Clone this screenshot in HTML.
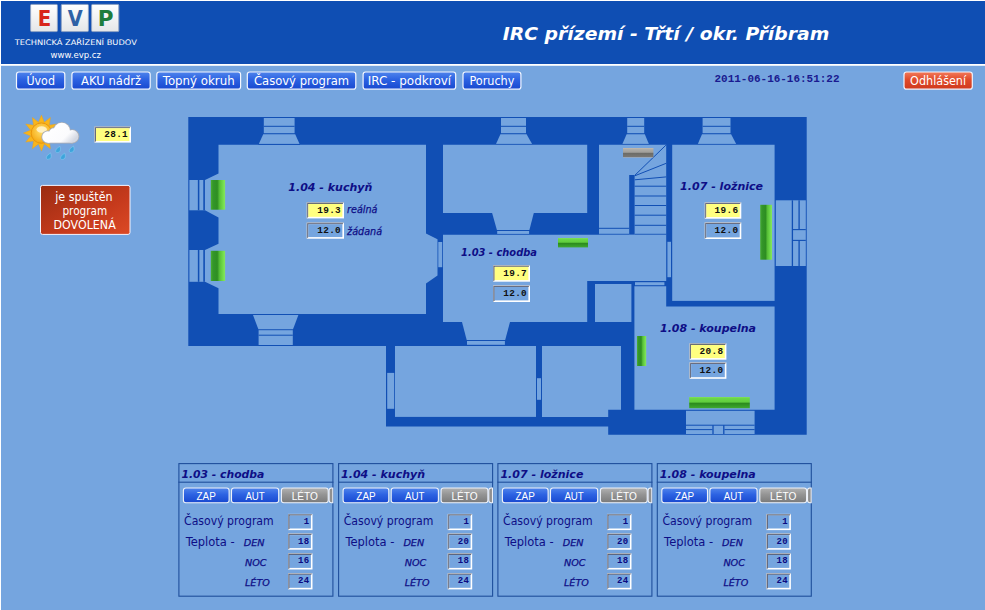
<!DOCTYPE html>
<html lang="cs"><head><meta charset="utf-8"><title>IRC přízemí - Třtí / okr. Příbram</title>
<style>html,body{margin:0;padding:0;background:#75a5df;overflow:hidden}svg{display:block}</style></head>
<body><svg width="985" height="610" viewBox="0 0 985 610">
<defs>
<linearGradient id="tile" x1="0" y1="0" x2="0" y2="1"><stop offset="0" stop-color="#ffffff"/><stop offset="1" stop-color="#e4e6e8"/></linearGradient>
<linearGradient id="nav" x1="0" y1="0" x2="0" y2="1"><stop offset="0" stop-color="#4f84ec"/><stop offset="0.45" stop-color="#2c62e2"/><stop offset="1" stop-color="#1848cf"/></linearGradient>
<linearGradient id="red" x1="0" y1="0" x2="0" y2="1"><stop offset="0" stop-color="#f27a5a"/><stop offset="0.45" stop-color="#e04a2a"/><stop offset="1" stop-color="#cf3a1e"/></linearGradient>
<linearGradient id="gray" x1="0" y1="0" x2="0" y2="1"><stop offset="0" stop-color="#b2b2b2"/><stop offset="0.45" stop-color="#949494"/><stop offset="1" stop-color="#7a7a7a"/></linearGradient>
<linearGradient id="redbox" x1="0" y1="0" x2="1" y2="1"><stop offset="0" stop-color="#9a2c12"/><stop offset="0.6" stop-color="#c63a1c"/><stop offset="1" stop-color="#dc4a26"/></linearGradient>
<linearGradient id="radv" x1="0" y1="0" x2="1" y2="0"><stop offset="0" stop-color="#4cb030"/><stop offset="0.15" stop-color="#34962a"/><stop offset="0.45" stop-color="#2e8e22"/><stop offset="0.62" stop-color="#58c038"/><stop offset="0.85" stop-color="#72dc4c"/><stop offset="1" stop-color="#86e660"/></linearGradient>
<linearGradient id="radh" x1="0" y1="0" x2="0" y2="1"><stop offset="0" stop-color="#86e262"/><stop offset="0.1" stop-color="#6cd848"/><stop offset="0.45" stop-color="#60ce3e"/><stop offset="0.56" stop-color="#2c8a1e"/><stop offset="0.78" stop-color="#349a26"/><stop offset="1" stop-color="#40a830"/></linearGradient>
<linearGradient id="radg" x1="0" y1="0" x2="0" y2="1"><stop offset="0" stop-color="#c8bcae"/><stop offset="0.12" stop-color="#b0aea8"/><stop offset="0.45" stop-color="#a09e9a"/><stop offset="0.56" stop-color="#6c6c68"/><stop offset="0.9" stop-color="#787672"/><stop offset="1" stop-color="#b4a89c"/></linearGradient>
<radialGradient id="sun" cx="0.5" cy="0.4" r="0.6"><stop offset="0" stop-color="#ffe070"/><stop offset="1" stop-color="#f5a810"/></radialGradient>
<linearGradient id="cloud" gradientUnits="userSpaceOnUse" x1="50" y1="124" x2="70" y2="144"><stop offset="0" stop-color="#ffffff"/><stop offset="0.7" stop-color="#fbfbfd"/><stop offset="1" stop-color="#d4d8e2"/></linearGradient>
</defs>
<rect x="0.00" y="0.00" width="985.00" height="610.00" fill="#ffffff" />
<rect x="1.00" y="1.00" width="984.00" height="63.00" fill="#0f4eb3" />
<rect x="1.00" y="65.80" width="984.00" height="544.20" fill="#75a5df" />
<rect x="30.6" y="4.4" width="26.8" height="27.2" rx="1" fill="url(#tile)" stroke="#8fa3c4" stroke-width="1"/>
<text transform="translate(44.4,26) scale(0.92,1)" text-anchor="middle" font-family="'DejaVu Sans','Liberation Sans',sans-serif" font-weight="bold" font-size="21.5" fill="#d8261c">E</text>
<rect x="61.3" y="4.4" width="27.1" height="27.2" rx="1" fill="url(#tile)" stroke="#8fa3c4" stroke-width="1"/>
<text transform="translate(75.2,26) scale(0.9,1)" text-anchor="middle" font-family="'DejaVu Sans','Liberation Sans',sans-serif" font-weight="bold" font-size="21.5" fill="#2f62a6">V</text>
<rect x="91.6" y="4.4" width="27.2" height="27.2" rx="1" fill="url(#tile)" stroke="#8fa3c4" stroke-width="1"/>
<text transform="translate(105.6,26) scale(1.0,1)" text-anchor="middle" font-family="'DejaVu Sans','Liberation Sans',sans-serif" font-weight="bold" font-size="21.5" fill="#1d7d3c">P</text>
<text x="14.8" y="44.7" textLength="122" lengthAdjust="spacingAndGlyphs" font-family="'DejaVu Sans','Liberation Sans',sans-serif" font-size="7.6" fill="#ffffff">TECHNICKÁ ZAŘÍZENÍ BUDOV</text>
<text x="50.5" y="58" textLength="50.5" lengthAdjust="spacingAndGlyphs" font-family="'DejaVu Sans','Liberation Sans',sans-serif" font-size="8.5" fill="#ffffff">www.evp.cz</text>
<text x="502.8" y="39.6" textLength="326.5" lengthAdjust="spacingAndGlyphs" font-family="'DejaVu Sans','Liberation Sans',sans-serif" font-weight="bold" font-style="italic" font-size="17.5" fill="#ffffff">IRC přízemí - Třtí / okr. Příbram</text>
<rect x="16.5" y="72" width="48.3" height="17.2" rx="2.5" fill="url(#nav)" stroke="#f2f6ff" stroke-width="1.2"/><text x="40.7" y="84.8" text-anchor="middle" textLength="28.5" lengthAdjust="spacingAndGlyphs" font-family="'DejaVu Sans','Liberation Sans',sans-serif" font-size="11.5" fill="#ffffff">Úvod</text>
<rect x="71.9" y="72" width="78.3" height="17.2" rx="2.5" fill="url(#nav)" stroke="#f2f6ff" stroke-width="1.2"/><text x="111.1" y="84.8" text-anchor="middle" textLength="60.0" lengthAdjust="spacingAndGlyphs" font-family="'DejaVu Sans','Liberation Sans',sans-serif" font-size="11.5" fill="#ffffff">AKU nádrž</text>
<rect x="156.8" y="72" width="83.8" height="17.2" rx="2.5" fill="url(#nav)" stroke="#f2f6ff" stroke-width="1.2"/><text x="198.7" y="84.8" text-anchor="middle" textLength="72.0" lengthAdjust="spacingAndGlyphs" font-family="'DejaVu Sans','Liberation Sans',sans-serif" font-size="11.5" fill="#ffffff">Topný okruh</text>
<rect x="247.3" y="72" width="108.5" height="17.2" rx="2.5" fill="url(#nav)" stroke="#f2f6ff" stroke-width="1.2"/><text x="301.5" y="84.8" text-anchor="middle" textLength="95.0" lengthAdjust="spacingAndGlyphs" font-family="'DejaVu Sans','Liberation Sans',sans-serif" font-size="11.5" fill="#ffffff">Časový program</text>
<rect x="363.1" y="72" width="92.6" height="17.2" rx="2.5" fill="url(#nav)" stroke="#f2f6ff" stroke-width="1.2"/><text x="409.4" y="84.8" text-anchor="middle" textLength="83.5" lengthAdjust="spacingAndGlyphs" font-family="'DejaVu Sans','Liberation Sans',sans-serif" font-size="11.5" fill="#ffffff">IRC - podkroví</text>
<rect x="463.0" y="72" width="57.9" height="17.2" rx="2.5" fill="url(#nav)" stroke="#f2f6ff" stroke-width="1.2"/><text x="491.9" y="84.8" text-anchor="middle" textLength="45.0" lengthAdjust="spacingAndGlyphs" font-family="'DejaVu Sans','Liberation Sans',sans-serif" font-size="11.5" fill="#ffffff">Poruchy</text>
<rect x="904.0" y="72" width="68.3" height="17.2" rx="2.5" fill="url(#red)" stroke="#f2f6ff" stroke-width="1.2"/><text x="938.1" y="84.8" text-anchor="middle" textLength="56.0" lengthAdjust="spacingAndGlyphs" font-family="'DejaVu Sans','Liberation Sans',sans-serif" font-size="11.5" fill="#ffffff">Odhlášení</text>
<text x="714.5" y="81.8" textLength="125" lengthAdjust="spacingAndGlyphs" font-family="'Liberation Mono',monospace" font-weight="bold" font-size="10.5" fill="#1a1a90">2011-06-16-16:51:22</text>
<g id="weather">
<g transform="translate(41.4,133.1)" fill="#f8b51c" stroke="#f0a010" stroke-width="0.4">
<polygon points="-3.5,-9.3 0,-18 3.5,-9.3" transform="rotate(0)"/><polygon points="-3.5,-9.3 0,-18 3.5,-9.3" transform="rotate(30)"/><polygon points="-3.5,-9.3 0,-18 3.5,-9.3" transform="rotate(60)"/><polygon points="-3.5,-9.3 0,-18 3.5,-9.3" transform="rotate(90)"/><polygon points="-3.5,-9.3 0,-18 3.5,-9.3" transform="rotate(120)"/><polygon points="-3.5,-9.3 0,-18 3.5,-9.3" transform="rotate(150)"/><polygon points="-3.5,-9.3 0,-18 3.5,-9.3" transform="rotate(180)"/><polygon points="-3.5,-9.3 0,-18 3.5,-9.3" transform="rotate(210)"/><polygon points="-3.5,-9.3 0,-18 3.5,-9.3" transform="rotate(240)"/><polygon points="-3.5,-9.3 0,-18 3.5,-9.3" transform="rotate(270)"/><polygon points="-3.5,-9.3 0,-18 3.5,-9.3" transform="rotate(300)"/><polygon points="-3.5,-9.3 0,-18 3.5,-9.3" transform="rotate(330)"/>
<circle r="10.2" fill="url(#sun)" stroke="#e8940c" stroke-width="0.9"/>
<ellipse cx="0.3" cy="-3.6" rx="5.2" ry="3.2" fill="#fff6d8" opacity="0.8" stroke="none"/>
</g>
<g fill="#a9adb6" stroke="#a9adb6" stroke-width="1.7"><circle cx="47.9" cy="137" r="5.7"/><circle cx="54" cy="133.2" r="5"/><circle cx="61.8" cy="131" r="8.2"/><circle cx="72.2" cy="136.4" r="6.3"/><rect x="47.9" y="136" width="24.3" height="6.7"/></g>
<g fill="url(#cloud)"><circle cx="47.9" cy="137" r="5.7"/><circle cx="54" cy="133.2" r="5"/><circle cx="61.8" cy="131" r="8.2"/><circle cx="72.2" cy="136.4" r="6.3"/><rect x="47.9" y="136" width="24.3" height="6.7"/></g>
<g fill="#3ea4dc" stroke="#8fd0f0" stroke-width="0.5">
<path d="M59.8 146.2 q1.7 4.2 -0.7 6 q-2.5 1.4 -3.6 -0.8 q-0.7 -2 4.3 -5.2z"/>
<path d="M73.4 146.0 q1.7 4.2 -0.7 6 q-2.5 1.4 -3.6 -0.8 q-0.7 -2 4.3 -5.2z"/>
<path d="M50.5 152.9 q1.7 4.2 -0.7 6 q-2.5 1.4 -3.6 -0.8 q-0.7 -2 4.3 -5.2z"/>
<path d="M64.7 153.1 q1.7 4.2 -0.7 6 q-2.5 1.4 -3.6 -0.8 q-0.7 -2 4.3 -5.2z"/>
</g>
</g>
<rect x="94.40" y="126.60" width="36.60" height="16.00" fill="#ffffff" /><polygon points="94.40,126.60 131.00,126.60 129.40,128.20 96.00,128.20 96.00,141.00 94.40,142.60" fill="#9a9ea8" /><polygon points="95.20,127.40 130.20,127.40 129.40,128.20 96.00,128.20 96.00,141.00 95.20,141.80" fill="#5a5f74" /><rect x="96.00" y="128.20" width="33.40" height="12.80" fill="#ffff80" /><text x="128.1" y="137.2" text-anchor="end" letter-spacing="0.35" font-family="'Liberation Mono',monospace" font-weight="bold" font-size="9.4" fill="#101010">28.1</text>
<rect x="40.5" y="185.4" width="89.5" height="49" rx="2" fill="url(#redbox)" stroke="#f4f4ff" stroke-width="1"/>
<text x="83.9" y="200.9" text-anchor="middle" textLength="57.3" lengthAdjust="spacingAndGlyphs" font-family="'DejaVu Sans','Liberation Sans',sans-serif" font-size="11.5" fill="#ffffff">je spuštěn</text>
<text x="84.8" y="215.2" text-anchor="middle" textLength="44.8" lengthAdjust="spacingAndGlyphs" font-family="'DejaVu Sans','Liberation Sans',sans-serif" font-size="11.5" fill="#ffffff">program</text>
<text x="84.6" y="229.0" text-anchor="middle" textLength="62.3" lengthAdjust="spacingAndGlyphs" font-family="'DejaVu Sans','Liberation Sans',sans-serif" font-size="11.5" fill="#ffffff">DOVOLENÁ</text>
<g id="plan"><polygon points="188.30,117.00 806.70,117.00 806.70,434.75 608.20,434.75 608.20,426.60 386.00,426.60 386.00,346.00 188.30,346.00" fill="#114fb4" />
<polygon points="218.50,144.75 426.00,144.75 426.00,233.60 437.50,239.30 437.50,275.40 426.00,283.60 426.00,314.00 218.50,314.00 218.50,288.20 205.00,281.80 205.00,250.00 218.50,243.70 218.50,217.60 205.00,210.30 205.00,180.00 218.50,173.50" fill="#75a5df" />
<rect x="189.40" y="180.00" width="15.60" height="30.30" fill="#75a5df" />
<rect x="197.85" y="180.00" width="1.50" height="30.30" fill="#114fb4" />
<rect x="203.30" y="180.00" width="1.60" height="30.30" fill="#114fb4" />
<rect x="189.40" y="250.00" width="15.60" height="31.80" fill="#75a5df" />
<rect x="197.85" y="250.00" width="1.50" height="31.80" fill="#114fb4" />
<rect x="203.30" y="250.00" width="1.60" height="31.80" fill="#114fb4" />
<rect x="263.80" y="118.00" width="30.80" height="15.20" fill="#75a5df" /><rect x="263.80" y="125.80" width="30.80" height="1.00" fill="#114fb4" /><polygon points="263.20,134.20 295.20,134.20 299.60,143.90 258.80,143.90" fill="#75a5df" /><rect x="258.40" y="143.90" width="41.60" height="0.90" fill="#114fb4" />
<rect x="501.00" y="118.00" width="25.00" height="15.20" fill="#75a5df" /><rect x="501.00" y="125.80" width="25.00" height="1.00" fill="#114fb4" /><polygon points="500.40,134.20 526.60,134.20 532.10,143.90 496.00,143.90" fill="#75a5df" /><rect x="495.60" y="143.90" width="36.90" height="0.90" fill="#114fb4" />
<rect x="627.20" y="118.00" width="17.00" height="15.20" fill="#75a5df" /><rect x="627.20" y="125.80" width="17.00" height="1.00" fill="#114fb4" /><polygon points="626.60,134.20 644.80,134.20 648.90,143.90 622.40,143.90" fill="#75a5df" /><rect x="622.00" y="143.90" width="27.30" height="0.90" fill="#114fb4" />
<rect x="702.60" y="118.00" width="27.90" height="15.20" fill="#75a5df" /><rect x="702.60" y="125.80" width="27.90" height="1.00" fill="#114fb4" /><polygon points="702.00,134.20 731.10,134.20 736.20,143.90 697.80,143.90" fill="#75a5df" /><rect x="697.40" y="143.90" width="39.20" height="0.90" fill="#114fb4" />
<polygon points="253.00,315.00 298.40,315.00 293.00,329.20 258.40,329.20" fill="#75a5df" />
<rect x="258.60" y="330.20" width="34.20" height="14.80" fill="#75a5df" />
<rect x="258.60" y="334.70" width="34.20" height="1.00" fill="#114fb4" />
<rect x="438.30" y="242.00" width="3.90" height="25.20" fill="#75a5df" />
<rect x="443.00" y="144.75" width="144.20" height="68.25" fill="#75a5df" />
<polygon points="492.10,213.00 533.80,213.00 529.40,230.00 496.90,230.00" fill="#75a5df" />
<rect x="497.20" y="231.00" width="31.90" height="2.90" fill="#75a5df" />
<rect x="599.00" y="144.75" width="67.20" height="90.00" fill="#75a5df" />
<rect x="629.20" y="175.00" width="5.40" height="59.75" fill="#114fb4" />
<rect x="599.00" y="227.80" width="30.20" height="1.00" fill="#114fb4" />
<rect x="599.00" y="233.80" width="30.20" height="1.00" fill="#114fb4" />
<line x1="634.80" y1="175.30" x2="665.90" y2="145.20" stroke="#114fb4" stroke-width="1.00"/>
<line x1="634.80" y1="175.80" x2="666.20" y2="163.30" stroke="#114fb4" stroke-width="1.00"/>
<line x1="634.80" y1="179.80" x2="666.20" y2="176.90" stroke="#114fb4" stroke-width="1.00"/>
<rect x="634.60" y="185.70" width="31.60" height="1.00" fill="#114fb4" />
<rect x="634.60" y="195.50" width="31.60" height="1.00" fill="#114fb4" />
<rect x="634.60" y="205.00" width="31.60" height="1.00" fill="#114fb4" />
<rect x="634.60" y="214.70" width="31.60" height="1.00" fill="#114fb4" />
<rect x="634.60" y="224.80" width="31.60" height="1.00" fill="#114fb4" />
<rect x="634.60" y="233.80" width="31.60" height="1.00" fill="#114fb4" />
<polygon points="443.00,234.75 666.20,234.75 666.20,281.00 587.20,281.00 587.20,322.00 443.00,322.00" fill="#75a5df" />
<polygon points="462.00,322.00 510.00,322.00 505.20,340.00 466.70,340.00" fill="#75a5df" />
<rect x="467.00" y="341.00" width="37.90" height="3.80" fill="#75a5df" />
<rect x="667.40" y="241.80" width="3.60" height="35.40" fill="#75a5df" />
<rect x="595.00" y="284.00" width="36.40" height="38.00" fill="#75a5df" />
<polygon points="634.40,286.20 666.20,286.20 666.20,306.50 774.60,306.50 774.60,409.80 634.40,409.80" fill="#75a5df" />
<rect x="635.00" y="282.20" width="29.40" height="3.00" fill="#75a5df" />
<rect x="672.20" y="144.75" width="102.40" height="156.15" fill="#75a5df" />
<rect x="775.80" y="200.30" width="30.00" height="65.70" fill="#75a5df" />
<rect x="791.75" y="200.30" width="1.30" height="65.70" fill="#114fb4" />
<rect x="798.45" y="200.30" width="1.30" height="29.30" fill="#114fb4" />
<rect x="798.45" y="240.40" width="1.30" height="25.60" fill="#114fb4" />
<rect x="792.40" y="229.05" width="13.40" height="1.10" fill="#114fb4" />
<rect x="792.40" y="239.85" width="13.40" height="1.10" fill="#114fb4" />
<rect x="395.00" y="346.00" width="141.00" height="70.90" fill="#75a5df" />
<polygon points="542.00,346.00 621.00,346.00 621.00,409.80 608.20,409.80 608.20,416.90 542.00,416.90" fill="#75a5df" />
<rect x="387.20" y="372.90" width="7.00" height="35.90" fill="#75a5df" />
<rect x="537.00" y="378.20" width="4.00" height="21.60" fill="#75a5df" />
<rect x="686.00" y="410.80" width="68.60" height="23.20" fill="#75a5df" />
<rect x="686.00" y="424.70" width="68.60" height="1.00" fill="#114fb4" />
<rect x="686.00" y="429.10" width="26.50" height="1.00" fill="#114fb4" />
<rect x="724.40" y="429.10" width="30.20" height="1.00" fill="#114fb4" />
<rect x="712.35" y="425.20" width="1.30" height="8.80" fill="#114fb4" />
<rect x="723.15" y="425.20" width="1.30" height="8.80" fill="#114fb4" />
<rect x="210.8" y="180.0" width="14.3" height="29.7" fill="url(#radv)"/>
<rect x="210.8" y="250.8" width="14.3" height="30.2" fill="url(#radv)"/>
<rect x="760.2" y="204.8" width="11.8" height="54.9" fill="url(#radv)"/>
<rect x="637.0" y="336.0" width="9.2" height="30.0" fill="url(#radv)"/>
<rect x="558.0" y="238.0" width="30.0" height="9.4" fill="url(#radh)"/>
<rect x="689.2" y="397.0" width="60.6" height="11.2" fill="url(#radh)"/>
<rect x="623.0" y="148.0" width="30.4" height="9.5" fill="url(#radg)"/>
<text x="288.3" y="190.7" textLength="84.0" lengthAdjust="spacingAndGlyphs" font-family="'DejaVu Sans','Liberation Sans',sans-serif" font-weight="bold" font-style="italic" font-size="11" fill="#0e0e86">1.04 - kuchyň</text>
<text x="461.0" y="256.0" textLength="76.0" lengthAdjust="spacingAndGlyphs" font-family="'DejaVu Sans','Liberation Sans',sans-serif" font-weight="bold" font-style="italic" font-size="10.5" fill="#0e0e86">1.03 - chodba</text>
<text x="680.1" y="190.2" textLength="83.0" lengthAdjust="spacingAndGlyphs" font-family="'DejaVu Sans','Liberation Sans',sans-serif" font-weight="bold" font-style="italic" font-size="11" fill="#0e0e86">1.07 - ložnice</text>
<text x="660.0" y="332.4" textLength="96.0" lengthAdjust="spacingAndGlyphs" font-family="'DejaVu Sans','Liberation Sans',sans-serif" font-weight="bold" font-style="italic" font-size="11" fill="#0e0e86">1.08 - koupelna</text>
<text x="347.1" y="212.9" textLength="30.4" lengthAdjust="spacingAndGlyphs" font-family="'DejaVu Sans','Liberation Sans',sans-serif" font-style="italic" font-size="10" fill="#0e0e86" stroke="#0e0e86" stroke-width="0.25">reálná</text>
<text x="347.1" y="234.7" textLength="35.0" lengthAdjust="spacingAndGlyphs" font-family="'DejaVu Sans','Liberation Sans',sans-serif" font-style="italic" font-size="10" fill="#0e0e86" stroke="#0e0e86" stroke-width="0.25">žádaná</text>
<rect x="306.70" y="202.30" width="37.30" height="16.10" fill="#ffffff" /><polygon points="306.70,202.30 344.00,202.30 342.40,203.90 308.30,203.90 308.30,216.80 306.70,218.40" fill="#9a9ea8" /><polygon points="307.50,203.10 343.20,203.10 342.40,203.90 308.30,203.90 308.30,216.80 307.50,217.60" fill="#5a5f74" /><rect x="308.30" y="203.90" width="34.10" height="12.90" fill="#ffff80" /><text x="341.1" y="213.0" text-anchor="end" letter-spacing="0.35" font-family="'Liberation Mono',monospace" font-weight="bold" font-size="9.4" fill="#101010">19.3</text>
<rect x="306.70" y="222.60" width="37.30" height="16.10" fill="#ffffff" /><polygon points="306.70,222.60 344.00,222.60 342.40,224.20 308.30,224.20 308.30,237.10 306.70,238.70" fill="#9a9ea8" /><polygon points="307.50,223.40 343.20,223.40 342.40,224.20 308.30,224.20 308.30,237.10 307.50,237.90" fill="#5a5f74" /><rect x="308.30" y="224.20" width="34.10" height="12.90" fill="#75a5df" /><text x="341.1" y="233.2" text-anchor="end" letter-spacing="0.35" font-family="'Liberation Mono',monospace" font-weight="bold" font-size="9.4" fill="#101010">12.0</text>
<rect x="493.00" y="265.20" width="37.00" height="16.50" fill="#ffffff" /><polygon points="493.00,265.20 530.00,265.20 528.40,266.80 494.60,266.80 494.60,280.10 493.00,281.70" fill="#9a9ea8" /><polygon points="493.80,266.00 529.20,266.00 528.40,266.80 494.60,266.80 494.60,280.10 493.80,280.90" fill="#5a5f74" /><rect x="494.60" y="266.80" width="33.80" height="13.30" fill="#ffff80" /><text x="527.1" y="276.1" text-anchor="end" letter-spacing="0.35" font-family="'Liberation Mono',monospace" font-weight="bold" font-size="9.4" fill="#101010">19.7</text>
<rect x="493.00" y="285.40" width="37.00" height="16.60" fill="#ffffff" /><polygon points="493.00,285.40 530.00,285.40 528.40,287.00 494.60,287.00 494.60,300.40 493.00,302.00" fill="#9a9ea8" /><polygon points="493.80,286.20 529.20,286.20 528.40,287.00 494.60,287.00 494.60,300.40 493.80,301.20" fill="#5a5f74" /><rect x="494.60" y="287.00" width="33.80" height="13.40" fill="#75a5df" /><text x="527.1" y="296.3" text-anchor="end" letter-spacing="0.35" font-family="'Liberation Mono',monospace" font-weight="bold" font-size="9.4" fill="#101010">12.0</text>
<rect x="704.70" y="202.40" width="36.60" height="16.30" fill="#ffffff" /><polygon points="704.70,202.40 741.30,202.40 739.70,204.00 706.30,204.00 706.30,217.10 704.70,218.70" fill="#9a9ea8" /><polygon points="705.50,203.20 740.50,203.20 739.70,204.00 706.30,204.00 706.30,217.10 705.50,217.90" fill="#5a5f74" /><rect x="706.30" y="204.00" width="33.40" height="13.10" fill="#ffff80" /><text x="738.4" y="213.2" text-anchor="end" letter-spacing="0.35" font-family="'Liberation Mono',monospace" font-weight="bold" font-size="9.4" fill="#101010">19.6</text>
<rect x="704.70" y="222.40" width="36.60" height="16.60" fill="#ffffff" /><polygon points="704.70,222.40 741.30,222.40 739.70,224.00 706.30,224.00 706.30,237.40 704.70,239.00" fill="#9a9ea8" /><polygon points="705.50,223.20 740.50,223.20 739.70,224.00 706.30,224.00 706.30,237.40 705.50,238.20" fill="#5a5f74" /><rect x="706.30" y="224.00" width="33.40" height="13.40" fill="#75a5df" /><text x="738.4" y="233.3" text-anchor="end" letter-spacing="0.35" font-family="'Liberation Mono',monospace" font-weight="bold" font-size="9.4" fill="#101010">12.0</text>
<rect x="689.50" y="343.30" width="36.90" height="16.40" fill="#ffffff" /><polygon points="689.50,343.30 726.40,343.30 724.80,344.90 691.10,344.90 691.10,358.10 689.50,359.70" fill="#9a9ea8" /><polygon points="690.30,344.10 725.60,344.10 724.80,344.90 691.10,344.90 691.10,358.10 690.30,358.90" fill="#5a5f74" /><rect x="691.10" y="344.90" width="33.70" height="13.20" fill="#ffff80" /><text x="723.5" y="354.1" text-anchor="end" letter-spacing="0.35" font-family="'Liberation Mono',monospace" font-weight="bold" font-size="9.4" fill="#101010">20.8</text>
<rect x="689.50" y="362.40" width="36.90" height="16.40" fill="#ffffff" /><polygon points="689.50,362.40 726.40,362.40 724.80,364.00 691.10,364.00 691.10,377.20 689.50,378.80" fill="#9a9ea8" /><polygon points="690.30,363.20 725.60,363.20 724.80,364.00 691.10,364.00 691.10,377.20 690.30,378.00" fill="#5a5f74" /><rect x="691.10" y="364.00" width="33.70" height="13.20" fill="#75a5df" /><text x="723.5" y="373.2" text-anchor="end" letter-spacing="0.35" font-family="'Liberation Mono',monospace" font-weight="bold" font-size="9.4" fill="#101010">12.0</text></g>
<g><rect x="178.9" y="463.6" width="154.0" height="132.6" fill="none" stroke="#1f4f9c" stroke-width="1.1"/><rect x="178.40" y="481.65" width="155.00" height="1.10" fill="#1f4f9c" /><text x="181.4" y="478.0" textLength="83.0" lengthAdjust="spacingAndGlyphs" font-family="'DejaVu Sans','Liberation Sans',sans-serif" font-weight="bold" font-style="italic" font-size="11" fill="#0e0e86">1.03 - chodba</text><rect x="183.4" y="488" width="45.7" height="14.8" rx="2.5" fill="url(#nav)" stroke="#eef2fa" stroke-width="1.1"/><text x="206.2" y="499.6" text-anchor="middle" textLength="19.3" lengthAdjust="spacingAndGlyphs" font-family="'Liberation Sans','DejaVu Sans',sans-serif" font-size="11" fill="#ffffff">ZAP</text><rect x="231.5" y="488" width="47.2" height="14.8" rx="2.5" fill="url(#nav)" stroke="#eef2fa" stroke-width="1.1"/><text x="255.1" y="499.6" text-anchor="middle" textLength="19.4" lengthAdjust="spacingAndGlyphs" font-family="'Liberation Sans','DejaVu Sans',sans-serif" font-size="11" fill="#ffffff">AUT</text><rect x="281.4" y="488" width="46.8" height="14.8" rx="2.5" fill="url(#gray)" stroke="#eef2fa" stroke-width="1.1"/><text x="304.8" y="499.6" text-anchor="middle" textLength="26.2" lengthAdjust="spacingAndGlyphs" font-family="'Liberation Sans','DejaVu Sans',sans-serif" font-size="11" fill="#ffffff">LÉTO</text><path d="M332.8 488 h-1.2 a2.5 2.5 0 0 0 -2.5 2.5 v9.8 a2.5 2.5 0 0 0 2.5 2.5 h1.2 z" fill="#909090" stroke="#eef2fa" stroke-width="1.1"/><text x="184.0" y="524.9" textLength="89.7" lengthAdjust="spacingAndGlyphs" font-family="'DejaVu Sans','Liberation Sans',sans-serif" font-size="11.4" fill="#0e0e86">Časový program</text><text x="185.7" y="545.7" textLength="49" lengthAdjust="spacingAndGlyphs" font-family="'DejaVu Sans','Liberation Sans',sans-serif" font-size="11.4" fill="#0e0e86">Teplota -</text><text x="243.7" y="545.7" textLength="20.8" lengthAdjust="spacingAndGlyphs" font-family="'DejaVu Sans','Liberation Sans',sans-serif" font-style="italic" font-size="9" fill="#0e0e86" stroke="#0e0e86" stroke-width="0.25">DEN</text><text x="245.0" y="566.0" textLength="21.6" lengthAdjust="spacingAndGlyphs" font-family="'DejaVu Sans','Liberation Sans',sans-serif" font-style="italic" font-size="9" fill="#0e0e86" stroke="#0e0e86" stroke-width="0.25">NOC</text><text x="245.0" y="585.9" textLength="24.9" lengthAdjust="spacingAndGlyphs" font-family="'DejaVu Sans','Liberation Sans',sans-serif" font-style="italic" font-size="9" fill="#0e0e86" stroke="#0e0e86" stroke-width="0.25">LÉTO</text><rect x="288.00" y="513.90" width="24.50" height="16.20" fill="#ffffff" /><polygon points="288.00,513.90 312.50,513.90 310.90,515.50 289.60,515.50 289.60,528.50 288.00,530.10" fill="#9a9ea8" /><polygon points="288.80,514.70 311.70,514.70 310.90,515.50 289.60,515.50 289.60,528.50 288.80,529.30" fill="#5a5f74" /><rect x="289.60" y="515.50" width="21.30" height="13.00" fill="#75a5df" /><text x="309.6" y="524.0" text-anchor="end" letter-spacing="0.35" font-family="'Liberation Mono',monospace" font-weight="bold" font-size="9" fill="#0a0a80">1</text><rect x="288.00" y="533.50" width="24.50" height="16.20" fill="#ffffff" /><polygon points="288.00,533.50 312.50,533.50 310.90,535.10 289.60,535.10 289.60,548.10 288.00,549.70" fill="#9a9ea8" /><polygon points="288.80,534.30 311.70,534.30 310.90,535.10 289.60,535.10 289.60,548.10 288.80,548.90" fill="#5a5f74" /><rect x="289.60" y="535.10" width="21.30" height="13.00" fill="#75a5df" /><text x="309.6" y="543.6" text-anchor="end" letter-spacing="0.35" font-family="'Liberation Mono',monospace" font-weight="bold" font-size="9" fill="#0a0a80">18</text><rect x="288.00" y="553.30" width="24.50" height="16.20" fill="#ffffff" /><polygon points="288.00,553.30 312.50,553.30 310.90,554.90 289.60,554.90 289.60,567.90 288.00,569.50" fill="#9a9ea8" /><polygon points="288.80,554.10 311.70,554.10 310.90,554.90 289.60,554.90 289.60,567.90 288.80,568.70" fill="#5a5f74" /><rect x="289.60" y="554.90" width="21.30" height="13.00" fill="#75a5df" /><text x="309.6" y="563.4" text-anchor="end" letter-spacing="0.35" font-family="'Liberation Mono',monospace" font-weight="bold" font-size="9" fill="#0a0a80">16</text><rect x="288.00" y="573.20" width="24.50" height="16.20" fill="#ffffff" /><polygon points="288.00,573.20 312.50,573.20 310.90,574.80 289.60,574.80 289.60,587.80 288.00,589.40" fill="#9a9ea8" /><polygon points="288.80,574.00 311.70,574.00 310.90,574.80 289.60,574.80 289.60,587.80 288.80,588.60" fill="#5a5f74" /><rect x="289.60" y="574.80" width="21.30" height="13.00" fill="#75a5df" /><text x="309.6" y="583.3" text-anchor="end" letter-spacing="0.35" font-family="'Liberation Mono',monospace" font-weight="bold" font-size="9" fill="#0a0a80">24</text></g>
<g><rect x="338.6" y="463.6" width="154.0" height="132.6" fill="none" stroke="#1f4f9c" stroke-width="1.1"/><rect x="338.10" y="481.65" width="155.00" height="1.10" fill="#1f4f9c" /><text x="341.1" y="478.0" textLength="84.0" lengthAdjust="spacingAndGlyphs" font-family="'DejaVu Sans','Liberation Sans',sans-serif" font-weight="bold" font-style="italic" font-size="11" fill="#0e0e86">1.04 - kuchyň</text><rect x="343.1" y="488" width="45.7" height="14.8" rx="2.5" fill="url(#nav)" stroke="#eef2fa" stroke-width="1.1"/><text x="366.0" y="499.6" text-anchor="middle" textLength="19.3" lengthAdjust="spacingAndGlyphs" font-family="'Liberation Sans','DejaVu Sans',sans-serif" font-size="11" fill="#ffffff">ZAP</text><rect x="391.2" y="488" width="47.2" height="14.8" rx="2.5" fill="url(#nav)" stroke="#eef2fa" stroke-width="1.1"/><text x="414.8" y="499.6" text-anchor="middle" textLength="19.4" lengthAdjust="spacingAndGlyphs" font-family="'Liberation Sans','DejaVu Sans',sans-serif" font-size="11" fill="#ffffff">AUT</text><rect x="441.1" y="488" width="46.8" height="14.8" rx="2.5" fill="url(#gray)" stroke="#eef2fa" stroke-width="1.1"/><text x="464.5" y="499.6" text-anchor="middle" textLength="26.2" lengthAdjust="spacingAndGlyphs" font-family="'Liberation Sans','DejaVu Sans',sans-serif" font-size="11" fill="#ffffff">LÉTO</text><path d="M492.5 488 h-1.2 a2.5 2.5 0 0 0 -2.5 2.5 v9.8 a2.5 2.5 0 0 0 2.5 2.5 h1.2 z" fill="#909090" stroke="#eef2fa" stroke-width="1.1"/><text x="343.7" y="524.9" textLength="89.7" lengthAdjust="spacingAndGlyphs" font-family="'DejaVu Sans','Liberation Sans',sans-serif" font-size="11.4" fill="#0e0e86">Časový program</text><text x="345.4" y="545.7" textLength="49" lengthAdjust="spacingAndGlyphs" font-family="'DejaVu Sans','Liberation Sans',sans-serif" font-size="11.4" fill="#0e0e86">Teplota -</text><text x="403.4" y="545.7" textLength="20.8" lengthAdjust="spacingAndGlyphs" font-family="'DejaVu Sans','Liberation Sans',sans-serif" font-style="italic" font-size="9" fill="#0e0e86" stroke="#0e0e86" stroke-width="0.25">DEN</text><text x="404.7" y="566.0" textLength="21.6" lengthAdjust="spacingAndGlyphs" font-family="'DejaVu Sans','Liberation Sans',sans-serif" font-style="italic" font-size="9" fill="#0e0e86" stroke="#0e0e86" stroke-width="0.25">NOC</text><text x="404.7" y="585.9" textLength="24.9" lengthAdjust="spacingAndGlyphs" font-family="'DejaVu Sans','Liberation Sans',sans-serif" font-style="italic" font-size="9" fill="#0e0e86" stroke="#0e0e86" stroke-width="0.25">LÉTO</text><rect x="447.70" y="513.90" width="24.50" height="16.20" fill="#ffffff" /><polygon points="447.70,513.90 472.20,513.90 470.60,515.50 449.30,515.50 449.30,528.50 447.70,530.10" fill="#9a9ea8" /><polygon points="448.50,514.70 471.40,514.70 470.60,515.50 449.30,515.50 449.30,528.50 448.50,529.30" fill="#5a5f74" /><rect x="449.30" y="515.50" width="21.30" height="13.00" fill="#75a5df" /><text x="469.3" y="524.0" text-anchor="end" letter-spacing="0.35" font-family="'Liberation Mono',monospace" font-weight="bold" font-size="9" fill="#0a0a80">1</text><rect x="447.70" y="533.50" width="24.50" height="16.20" fill="#ffffff" /><polygon points="447.70,533.50 472.20,533.50 470.60,535.10 449.30,535.10 449.30,548.10 447.70,549.70" fill="#9a9ea8" /><polygon points="448.50,534.30 471.40,534.30 470.60,535.10 449.30,535.10 449.30,548.10 448.50,548.90" fill="#5a5f74" /><rect x="449.30" y="535.10" width="21.30" height="13.00" fill="#75a5df" /><text x="469.3" y="543.6" text-anchor="end" letter-spacing="0.35" font-family="'Liberation Mono',monospace" font-weight="bold" font-size="9" fill="#0a0a80">20</text><rect x="447.70" y="553.30" width="24.50" height="16.20" fill="#ffffff" /><polygon points="447.70,553.30 472.20,553.30 470.60,554.90 449.30,554.90 449.30,567.90 447.70,569.50" fill="#9a9ea8" /><polygon points="448.50,554.10 471.40,554.10 470.60,554.90 449.30,554.90 449.30,567.90 448.50,568.70" fill="#5a5f74" /><rect x="449.30" y="554.90" width="21.30" height="13.00" fill="#75a5df" /><text x="469.3" y="563.4" text-anchor="end" letter-spacing="0.35" font-family="'Liberation Mono',monospace" font-weight="bold" font-size="9" fill="#0a0a80">18</text><rect x="447.70" y="573.20" width="24.50" height="16.20" fill="#ffffff" /><polygon points="447.70,573.20 472.20,573.20 470.60,574.80 449.30,574.80 449.30,587.80 447.70,589.40" fill="#9a9ea8" /><polygon points="448.50,574.00 471.40,574.00 470.60,574.80 449.30,574.80 449.30,587.80 448.50,588.60" fill="#5a5f74" /><rect x="449.30" y="574.80" width="21.30" height="13.00" fill="#75a5df" /><text x="469.3" y="583.3" text-anchor="end" letter-spacing="0.35" font-family="'Liberation Mono',monospace" font-weight="bold" font-size="9" fill="#0a0a80">24</text></g>
<g><rect x="497.9" y="463.6" width="154.0" height="132.6" fill="none" stroke="#1f4f9c" stroke-width="1.1"/><rect x="497.40" y="481.65" width="155.00" height="1.10" fill="#1f4f9c" /><text x="500.4" y="478.0" textLength="83.0" lengthAdjust="spacingAndGlyphs" font-family="'DejaVu Sans','Liberation Sans',sans-serif" font-weight="bold" font-style="italic" font-size="11" fill="#0e0e86">1.07 - ložnice</text><rect x="502.4" y="488" width="45.7" height="14.8" rx="2.5" fill="url(#nav)" stroke="#eef2fa" stroke-width="1.1"/><text x="525.2" y="499.6" text-anchor="middle" textLength="19.3" lengthAdjust="spacingAndGlyphs" font-family="'Liberation Sans','DejaVu Sans',sans-serif" font-size="11" fill="#ffffff">ZAP</text><rect x="550.5" y="488" width="47.2" height="14.8" rx="2.5" fill="url(#nav)" stroke="#eef2fa" stroke-width="1.1"/><text x="574.1" y="499.6" text-anchor="middle" textLength="19.4" lengthAdjust="spacingAndGlyphs" font-family="'Liberation Sans','DejaVu Sans',sans-serif" font-size="11" fill="#ffffff">AUT</text><rect x="600.4" y="488" width="46.8" height="14.8" rx="2.5" fill="url(#gray)" stroke="#eef2fa" stroke-width="1.1"/><text x="623.8" y="499.6" text-anchor="middle" textLength="26.2" lengthAdjust="spacingAndGlyphs" font-family="'Liberation Sans','DejaVu Sans',sans-serif" font-size="11" fill="#ffffff">LÉTO</text><path d="M651.8 488 h-1.2 a2.5 2.5 0 0 0 -2.5 2.5 v9.8 a2.5 2.5 0 0 0 2.5 2.5 h1.2 z" fill="#909090" stroke="#eef2fa" stroke-width="1.1"/><text x="503.0" y="524.9" textLength="89.7" lengthAdjust="spacingAndGlyphs" font-family="'DejaVu Sans','Liberation Sans',sans-serif" font-size="11.4" fill="#0e0e86">Časový program</text><text x="504.7" y="545.7" textLength="49" lengthAdjust="spacingAndGlyphs" font-family="'DejaVu Sans','Liberation Sans',sans-serif" font-size="11.4" fill="#0e0e86">Teplota -</text><text x="562.7" y="545.7" textLength="20.8" lengthAdjust="spacingAndGlyphs" font-family="'DejaVu Sans','Liberation Sans',sans-serif" font-style="italic" font-size="9" fill="#0e0e86" stroke="#0e0e86" stroke-width="0.25">DEN</text><text x="564.0" y="566.0" textLength="21.6" lengthAdjust="spacingAndGlyphs" font-family="'DejaVu Sans','Liberation Sans',sans-serif" font-style="italic" font-size="9" fill="#0e0e86" stroke="#0e0e86" stroke-width="0.25">NOC</text><text x="564.0" y="585.9" textLength="24.9" lengthAdjust="spacingAndGlyphs" font-family="'DejaVu Sans','Liberation Sans',sans-serif" font-style="italic" font-size="9" fill="#0e0e86" stroke="#0e0e86" stroke-width="0.25">LÉTO</text><rect x="607.00" y="513.90" width="24.50" height="16.20" fill="#ffffff" /><polygon points="607.00,513.90 631.50,513.90 629.90,515.50 608.60,515.50 608.60,528.50 607.00,530.10" fill="#9a9ea8" /><polygon points="607.80,514.70 630.70,514.70 629.90,515.50 608.60,515.50 608.60,528.50 607.80,529.30" fill="#5a5f74" /><rect x="608.60" y="515.50" width="21.30" height="13.00" fill="#75a5df" /><text x="628.6" y="524.0" text-anchor="end" letter-spacing="0.35" font-family="'Liberation Mono',monospace" font-weight="bold" font-size="9" fill="#0a0a80">1</text><rect x="607.00" y="533.50" width="24.50" height="16.20" fill="#ffffff" /><polygon points="607.00,533.50 631.50,533.50 629.90,535.10 608.60,535.10 608.60,548.10 607.00,549.70" fill="#9a9ea8" /><polygon points="607.80,534.30 630.70,534.30 629.90,535.10 608.60,535.10 608.60,548.10 607.80,548.90" fill="#5a5f74" /><rect x="608.60" y="535.10" width="21.30" height="13.00" fill="#75a5df" /><text x="628.6" y="543.6" text-anchor="end" letter-spacing="0.35" font-family="'Liberation Mono',monospace" font-weight="bold" font-size="9" fill="#0a0a80">20</text><rect x="607.00" y="553.30" width="24.50" height="16.20" fill="#ffffff" /><polygon points="607.00,553.30 631.50,553.30 629.90,554.90 608.60,554.90 608.60,567.90 607.00,569.50" fill="#9a9ea8" /><polygon points="607.80,554.10 630.70,554.10 629.90,554.90 608.60,554.90 608.60,567.90 607.80,568.70" fill="#5a5f74" /><rect x="608.60" y="554.90" width="21.30" height="13.00" fill="#75a5df" /><text x="628.6" y="563.4" text-anchor="end" letter-spacing="0.35" font-family="'Liberation Mono',monospace" font-weight="bold" font-size="9" fill="#0a0a80">18</text><rect x="607.00" y="573.20" width="24.50" height="16.20" fill="#ffffff" /><polygon points="607.00,573.20 631.50,573.20 629.90,574.80 608.60,574.80 608.60,587.80 607.00,589.40" fill="#9a9ea8" /><polygon points="607.80,574.00 630.70,574.00 629.90,574.80 608.60,574.80 608.60,587.80 607.80,588.60" fill="#5a5f74" /><rect x="608.60" y="574.80" width="21.30" height="13.00" fill="#75a5df" /><text x="628.6" y="583.3" text-anchor="end" letter-spacing="0.35" font-family="'Liberation Mono',monospace" font-weight="bold" font-size="9" fill="#0a0a80">24</text></g>
<g><rect x="657.3" y="463.6" width="154.0" height="132.6" fill="none" stroke="#1f4f9c" stroke-width="1.1"/><rect x="656.80" y="481.65" width="155.00" height="1.10" fill="#1f4f9c" /><text x="659.8" y="478.0" textLength="96.0" lengthAdjust="spacingAndGlyphs" font-family="'DejaVu Sans','Liberation Sans',sans-serif" font-weight="bold" font-style="italic" font-size="11" fill="#0e0e86">1.08 - koupelna</text><rect x="661.8" y="488" width="45.7" height="14.8" rx="2.5" fill="url(#nav)" stroke="#eef2fa" stroke-width="1.1"/><text x="684.6" y="499.6" text-anchor="middle" textLength="19.3" lengthAdjust="spacingAndGlyphs" font-family="'Liberation Sans','DejaVu Sans',sans-serif" font-size="11" fill="#ffffff">ZAP</text><rect x="709.9" y="488" width="47.2" height="14.8" rx="2.5" fill="url(#nav)" stroke="#eef2fa" stroke-width="1.1"/><text x="733.5" y="499.6" text-anchor="middle" textLength="19.4" lengthAdjust="spacingAndGlyphs" font-family="'Liberation Sans','DejaVu Sans',sans-serif" font-size="11" fill="#ffffff">AUT</text><rect x="759.8" y="488" width="46.8" height="14.8" rx="2.5" fill="url(#gray)" stroke="#eef2fa" stroke-width="1.1"/><text x="783.2" y="499.6" text-anchor="middle" textLength="26.2" lengthAdjust="spacingAndGlyphs" font-family="'Liberation Sans','DejaVu Sans',sans-serif" font-size="11" fill="#ffffff">LÉTO</text><path d="M811.2 488 h-1.2 a2.5 2.5 0 0 0 -2.5 2.5 v9.8 a2.5 2.5 0 0 0 2.5 2.5 h1.2 z" fill="#909090" stroke="#eef2fa" stroke-width="1.1"/><text x="662.4" y="524.9" textLength="89.7" lengthAdjust="spacingAndGlyphs" font-family="'DejaVu Sans','Liberation Sans',sans-serif" font-size="11.4" fill="#0e0e86">Časový program</text><text x="664.1" y="545.7" textLength="49" lengthAdjust="spacingAndGlyphs" font-family="'DejaVu Sans','Liberation Sans',sans-serif" font-size="11.4" fill="#0e0e86">Teplota -</text><text x="722.1" y="545.7" textLength="20.8" lengthAdjust="spacingAndGlyphs" font-family="'DejaVu Sans','Liberation Sans',sans-serif" font-style="italic" font-size="9" fill="#0e0e86" stroke="#0e0e86" stroke-width="0.25">DEN</text><text x="723.4" y="566.0" textLength="21.6" lengthAdjust="spacingAndGlyphs" font-family="'DejaVu Sans','Liberation Sans',sans-serif" font-style="italic" font-size="9" fill="#0e0e86" stroke="#0e0e86" stroke-width="0.25">NOC</text><text x="723.4" y="585.9" textLength="24.9" lengthAdjust="spacingAndGlyphs" font-family="'DejaVu Sans','Liberation Sans',sans-serif" font-style="italic" font-size="9" fill="#0e0e86" stroke="#0e0e86" stroke-width="0.25">LÉTO</text><rect x="766.40" y="513.90" width="24.50" height="16.20" fill="#ffffff" /><polygon points="766.40,513.90 790.90,513.90 789.30,515.50 768.00,515.50 768.00,528.50 766.40,530.10" fill="#9a9ea8" /><polygon points="767.20,514.70 790.10,514.70 789.30,515.50 768.00,515.50 768.00,528.50 767.20,529.30" fill="#5a5f74" /><rect x="768.00" y="515.50" width="21.30" height="13.00" fill="#75a5df" /><text x="788.0" y="524.0" text-anchor="end" letter-spacing="0.35" font-family="'Liberation Mono',monospace" font-weight="bold" font-size="9" fill="#0a0a80">1</text><rect x="766.40" y="533.50" width="24.50" height="16.20" fill="#ffffff" /><polygon points="766.40,533.50 790.90,533.50 789.30,535.10 768.00,535.10 768.00,548.10 766.40,549.70" fill="#9a9ea8" /><polygon points="767.20,534.30 790.10,534.30 789.30,535.10 768.00,535.10 768.00,548.10 767.20,548.90" fill="#5a5f74" /><rect x="768.00" y="535.10" width="21.30" height="13.00" fill="#75a5df" /><text x="788.0" y="543.6" text-anchor="end" letter-spacing="0.35" font-family="'Liberation Mono',monospace" font-weight="bold" font-size="9" fill="#0a0a80">20</text><rect x="766.40" y="553.30" width="24.50" height="16.20" fill="#ffffff" /><polygon points="766.40,553.30 790.90,553.30 789.30,554.90 768.00,554.90 768.00,567.90 766.40,569.50" fill="#9a9ea8" /><polygon points="767.20,554.10 790.10,554.10 789.30,554.90 768.00,554.90 768.00,567.90 767.20,568.70" fill="#5a5f74" /><rect x="768.00" y="554.90" width="21.30" height="13.00" fill="#75a5df" /><text x="788.0" y="563.4" text-anchor="end" letter-spacing="0.35" font-family="'Liberation Mono',monospace" font-weight="bold" font-size="9" fill="#0a0a80">18</text><rect x="766.40" y="573.20" width="24.50" height="16.20" fill="#ffffff" /><polygon points="766.40,573.20 790.90,573.20 789.30,574.80 768.00,574.80 768.00,587.80 766.40,589.40" fill="#9a9ea8" /><polygon points="767.20,574.00 790.10,574.00 789.30,574.80 768.00,574.80 768.00,587.80 767.20,588.60" fill="#5a5f74" /><rect x="768.00" y="574.80" width="21.30" height="13.00" fill="#75a5df" /><text x="788.0" y="583.3" text-anchor="end" letter-spacing="0.35" font-family="'Liberation Mono',monospace" font-weight="bold" font-size="9" fill="#0a0a80">24</text></g>
</svg></body></html>
